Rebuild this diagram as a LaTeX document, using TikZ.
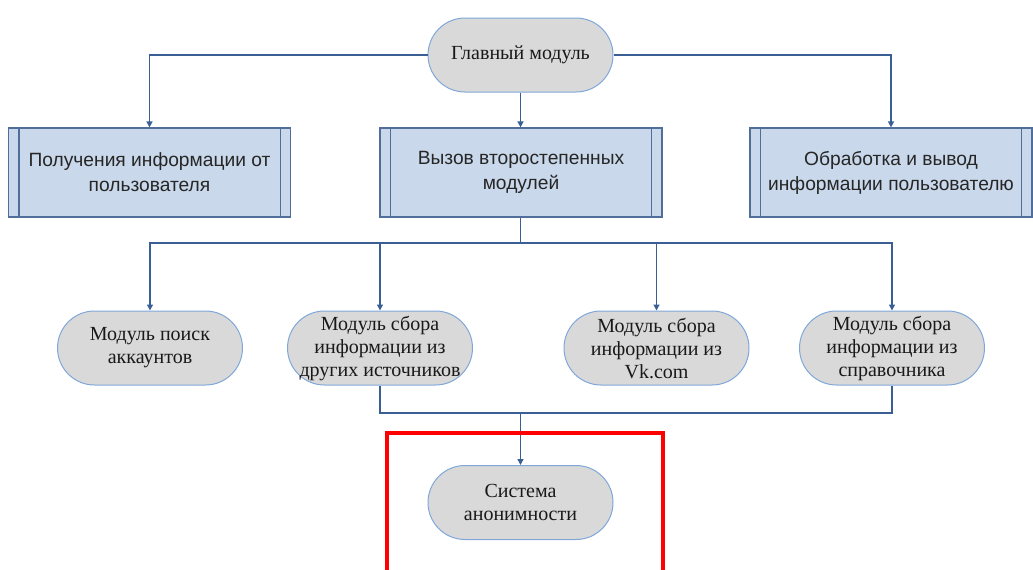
\documentclass[tikz,border=0pt]{standalone}
\usepackage{fontspec}
\setmainfont{Liberation Serif}
\newfontfamily\termfont{Liberation Serif}
\newfontfamily\boxfont{Liberation Sans}
\usetikzlibrary{arrows.meta}
\definecolor{termfill}{HTML}{D9D9D9}
\definecolor{termline}{HTML}{7FA7D9}
\definecolor{procfill}{HTML}{C9D8EA}
\definecolor{procline}{HTML}{4F6F9A}
\definecolor{wire}{HTML}{3A5F95}
\tikzset{
  term/.style={draw=termline, line width=1pt, fill=termfill, rounded corners=37pt,
    minimum width=185pt, minimum height=74pt, inner sep=0pt, align=center,
    font=\termfont\fontsize{20}{23}\selectfont, text=black!90},
  proc/.style={draw=procline, line width=1.2pt, fill=procfill,
    minimum width=282pt, minimum height=89pt, inner sep=0pt, align=center,
    font=\boxfont\fontsize{19.2}{25}\selectfont, text=black!85},
  wire/.style={draw=wire, line width=1.4pt},
  flow/.style={wire, -{Triangle[width=6pt,length=6pt]}},
  side/.style={draw=procline, line width=1.2pt},
  redframe/.style={draw=red, line width=4pt}
}
\begin{document}
\begin{tikzpicture}[x=1pt,y=-1pt]
\useasboundingbox (0,0) rectangle (1033,570);

% top level
\node[term] (main) at (520.5,55) {Главный модуль};

% process boxes
\node[proc] (get)  at (149.5,172.5) {Получения информации от\\пользователя};
\node[proc] (call) at (521,172.5)   {Вызов второстепенных\\модулей};
\node[proc] (out)  at (891,172.5)   {Обработка и вывод\\информации пользователю};
\foreach \b in {get,call,out}{
  \draw[side] ([xshift=11pt]\b.north west) -- ([xshift=11pt]\b.south west);
  \draw[side] ([xshift=-11pt]\b.north east) -- ([xshift=-11pt]\b.south east);
}

% secondary modules
\node[term] (acc)  at (150,348)   {Модуль поиск\\аккаунтов};
\node[term] (oth)  at (380,348)   {Модуль сбора\\информации из\\других источников};
\node[term] (vk)   at (656.5,348) {Модуль сбора\\информации из\\Vk.com};
\node[term] (dir)  at (892,348)   {Модуль сбора\\информации из\\справочника};

% anonymity system
\node[term] (anon) at (520.5,502.5) {Система\\анонимности};

% junction points
\coordinate (busA) at (520.5,243);
\coordinate (busB) at (520.5,413);

% main module to the three boxes
\draw[flow] (main.west) -| (get.north);
\draw[flow] (main.east) -| (out.north);
\draw[flow] (main.south) -- (main.south |- call.north);

% fan-out to the secondary modules
\draw[wire] (call.south -| busA) -- (busA);
\draw[flow] (busA) -| (acc.north);
\draw[flow] (busA) -| (dir.north);
\draw[flow] (oth.north |- busA) -- (oth.north);
\draw[flow] (vk.north |- busA) -- (vk.north);

% fan-in to the anonymity system
\draw[wire] (oth.south) |- (busB);
\draw[wire] (dir.south) |- (busB);
\draw[flow] (busB) -- (anon.north);

% highlight frame
\draw[redframe] (387,580) -- (387,433) -- (663,433) -- (663,580);
\end{tikzpicture}
\end{document}
